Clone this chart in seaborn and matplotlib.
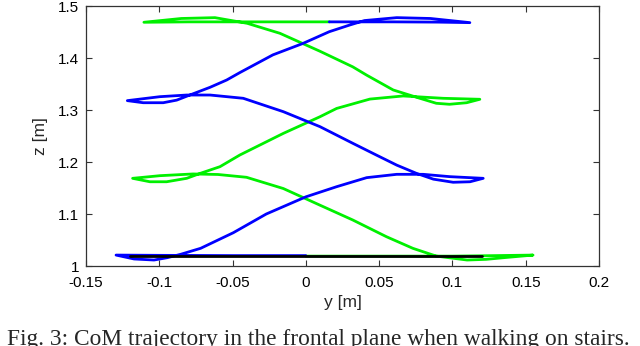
import pandas as pd
import matplotlib
matplotlib.use("Agg")
import matplotlib.pyplot as plt
import seaborn as sns

# CoM trajectory data (y [m], z [m])
blue_y = [0.0, -0.05, -0.1, -0.1295, -0.1172, -0.1036, -0.0945, -0.0854, -0.0718, -0.0495,
          -0.027, 0.0, 0.021, 0.0415, 0.062, 0.080, 0.0983, 0.121,
          0.112, 0.1005, 0.087, 0.0756, 0.062, 0.048, 0.032, 0.0096, -0.0154, -0.0427,
          -0.0654, -0.0813, -0.0996, -0.1218,
          -0.111, -0.0973, -0.0881, -0.079, -0.0654, -0.054, -0.045, -0.0225, -0.002, 0.016,
          0.030, 0.040, 0.062, 0.085, 0.1119,
          0.09, 0.06, 0.016]
blue_z = [1.020, 1.020, 1.0205, 1.021, 1.0135, 1.0115, 1.016, 1.0225, 1.034, 1.064,
          1.100, 1.133, 1.1525, 1.1699, 1.1763, 1.1763, 1.1718, 1.1686,
          1.162, 1.161, 1.167, 1.178, 1.194, 1.2135, 1.236, 1.268, 1.2968, 1.3225,
          1.3288, 1.3288, 1.3256, 1.318,
          1.314, 1.314, 1.319, 1.329, 1.3436, 1.3577, 1.372, 1.406, 1.428, 1.4506,
          1.4635, 1.472, 1.4776, 1.476, 1.468,
          1.469, 1.4695, 1.4695]

green_y = [0.0, 0.05, 0.1, 0.13, 0.155, 0.135, 0.123, 0.11, 0.089, 0.073, 0.055, 0.032,
           0.0096, -0.0154, -0.0405, -0.06, -0.077, -0.0995, -0.1182,
           -0.1064, -0.095, -0.0813, -0.0722, -0.0586, -0.045, -0.0154, 0.0096, 0.021,
           0.0437, 0.0664, 0.0937, 0.1187,
           0.1097, 0.098, 0.089, 0.0778, 0.0596, 0.0415, 0.032, 0.0096, -0.0177, -0.040,
           -0.062, -0.085, -0.1105,
           -0.08, -0.03, 0.016]
green_z = [1.019, 1.019, 1.019, 1.020, 1.021, 1.016, 1.0128, 1.0115, 1.019, 1.034, 1.0563, 1.0885,
           1.117, 1.149, 1.1706, 1.176, 1.177, 1.1737, 1.1686,
           1.162, 1.162, 1.1686, 1.178, 1.191, 1.2135, 1.255, 1.287, 1.303,
           1.321, 1.327, 1.3225, 1.3206,
           1.314, 1.311, 1.3129, 1.3225, 1.3385, 1.367, 1.383, 1.413, 1.4475, 1.4667,
           1.4776, 1.476, 1.4687,
           1.4695, 1.4695, 1.4695]

black_y = [-0.12, 0.1205]
black_z = [1.0198, 1.0198]

xticks = [-0.15, -0.1, -0.05, 0, 0.05, 0.1, 0.15, 0.2]
xtick_labels = ["-0.15", "-0.1", "-0.05", "0", "0.05", "0.1", "0.15", "0.2"]
yticks = [1.0, 1.1, 1.2, 1.3, 1.4, 1.5]
ytick_labels = ["1", "1.1", "1.2", "1.3", "1.4", "1.5"]

df = pd.concat([
    pd.DataFrame({"y": green_y, "z": green_z, "trial": "green"}),
    pd.DataFrame({"y": blue_y, "z": blue_z, "trial": "blue"}),
    pd.DataFrame({"y": black_y, "z": black_z, "trial": "black"}),
], ignore_index=True)

sns.set_theme(style="ticks")
plt.rcParams["font.family"] = ["Liberation Sans", "DejaVu Sans"]

fig = plt.figure(figsize=(6.4, 3.46), dpi=100)
ax = fig.add_axes([86 / 640, 1 - 266 / 346, (599 - 86) / 640, (266 - 6) / 346])

sns.lineplot(data=df, x="y", y="z", hue="trial", sort=False, estimator=None,
             palette={"green": "#00f000", "blue": "#0000ff", "black": "#000000"},
             linewidth=2.0, legend=False, ax=ax)

ax.set_xlim(-0.15, 0.2)
ax.set_ylim(1.0, 1.5)
ax.set_xticks(xticks)
ax.set_xticklabels(xtick_labels)
ax.set_yticks(yticks)
ax.set_yticklabels(ytick_labels)
ax.tick_params(direction="in", top=True, right=True, length=4, width=0.8,
               color="#333333", labelsize=11, labelcolor="black")
ax.tick_params(axis="x", pad=7)
ax.tick_params(axis="y", pad=5)
for s in ax.spines.values():
    s.set_visible(True)
    s.set_color("#333333")
    s.set_linewidth(0.9)

ax.set_xlabel("y [m]", fontsize=12.5, labelpad=4)
ax.set_ylabel("z [m]", fontsize=12.5, labelpad=7)

fig.text(0.497, 0.003, "Fig. 3: CoM trajectory in the frontal plane when walking on stairs.",
         ha="center", va="baseline", fontsize=16.8, family=["Liberation Serif", "DejaVu Serif"])

fig.savefig("out.png", dpi=100)
